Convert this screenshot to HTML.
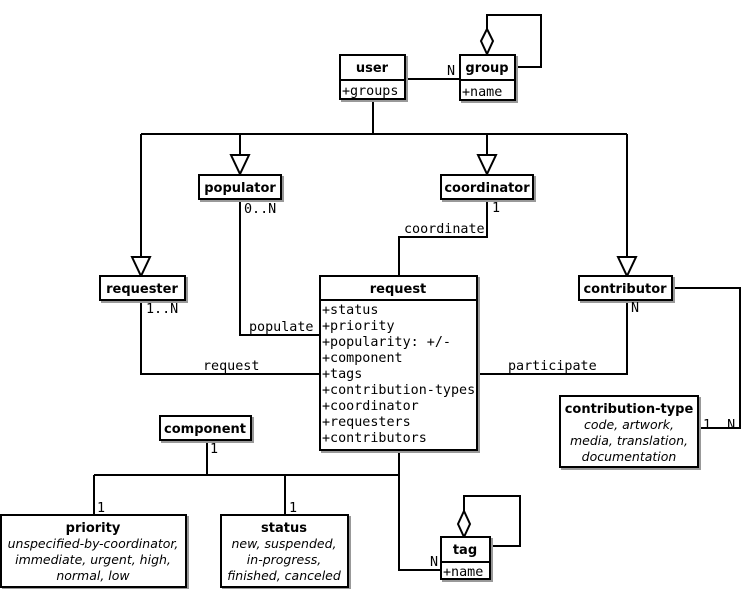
<!DOCTYPE html>
<html><head><style>body{margin:0;background:#fff}svg{display:block}</style></head><body>
<svg width="743" height="589" xmlns="http://www.w3.org/2000/svg">
<defs>
<filter id="s" x="-5%" y="-5%" width="115%" height="115%"><feDropShadow dx="2" dy="2" stdDeviation="0" flood-color="#999"/></filter>
</defs>
<g fill="none" stroke="#000" stroke-width="2">
<path d="M405 79H460"/>
<path d="M487 54V15H541V67H515"/>
<path d="M373 99V134M141 134H627M141 134V257M240 134V155M487 134V155M627 134V257"/>
<path d="M240 199V335H320"/>
<path d="M141 300V374H320"/>
<path d="M487 199V237H399V276"/>
<path d="M627 300V374H477"/>
<path d="M672 288H740V428H698"/>
<path d="M207 440V475M94 475H399M94 475V515M285 475V515"/>
<path d="M399 450V570H441"/>
<path d="M464 517V496H520V546H490"/>
</g>
<g fill="#fff" stroke="#000" stroke-width="2">
<path d="M487 29L493 41L487 54L481 41Z"/>
<path d="M464 511L470 524L464 537L458 524Z"/>
<path d="M132 257H150L141 276Z"/>
<path d="M231 155H249L240 174Z"/>
<path d="M478 155H496L487 174Z"/>
<path d="M618 257H636L627 276Z"/>
<g filter="url(#s)">
<rect x="340" y="55" width="65" height="44"/>
<rect x="460" y="55" width="55" height="45"/>
<rect x="199" y="175" width="82" height="24"/>
<rect x="441" y="175" width="92" height="24"/>
<rect x="100" y="276" width="85" height="24"/>
<rect x="579" y="276" width="93" height="24"/>
<rect x="320" y="276" width="157" height="174"/>
<rect x="560" y="396" width="138" height="71"/>
<rect x="160" y="416" width="91" height="24"/>
<rect x="1" y="515" width="185" height="72"/>
<rect x="221" y="515" width="127" height="72"/>
<rect x="441" y="537" width="49" height="42"/>
</g>
</g>
<g stroke="#000" stroke-width="2">
<path d="M340 80H405M460 80H515M320 300H477M441 562H490"/>
</g>
<g font-family="DejaVu Sans, Liberation Sans, sans-serif" font-weight="bold" font-size="13" text-anchor="middle">
<text x="372" y="72">user</text>
<text x="487" y="72">group</text>
<text x="240" y="192">populator</text>
<text x="487" y="192">coordinator</text>
<text x="142" y="293">requester</text>
<text x="625" y="293">contributor</text>
<text x="398" y="293">request</text>
<text x="629" y="413">contribution-type</text>
<text x="205" y="433">component</text>
<text x="93" y="532">priority</text>
<text x="284" y="532">status</text>
<text x="465" y="554">tag</text>
</g>
<g font-family="DejaVu Sans, Liberation Sans, sans-serif" font-style="italic" font-size="12.5" text-anchor="middle">
<text x="629" y="429">code, artwork,</text>
<text x="629" y="445">media, translation,</text>
<text x="629" y="461">documentation</text>
<text x="93" y="548">unspecified-by-coordinator,</text>
<text x="93" y="564">immediate, urgent, high,</text>
<text x="93" y="580">normal, low</text>
<text x="284" y="548">new, suspended,</text>
<text x="284" y="564">in-progress,</text>
<text x="284" y="580">finished, canceled</text>
</g>
<g font-family="DejaVu Sans Mono, Liberation Mono, monospace" font-size="13.4">
<text x="342" y="95">+groups</text>
<text x="462" y="96">+name</text>
<text x="443" y="576">+name</text>
<text x="322" y="314">+status</text>
<text x="322" y="330">+priority</text>
<text x="322" y="346">+popularity: +/-</text>
<text x="322" y="362">+component</text>
<text x="322" y="378">+tags</text>
<text x="322" y="394">+contribution-types</text>
<text x="322" y="410">+coordinator</text>
<text x="322" y="426">+requesters</text>
<text x="322" y="442">+contributors</text>
<text x="447" y="75">N</text>
<text x="244" y="213">0..N</text>
<text x="492" y="212">1</text>
<text x="404" y="233">coordinate</text>
<text x="146" y="313">1..N</text>
<text x="631" y="312">N</text>
<text x="249" y="331">populate</text>
<text x="203" y="370">request</text>
<text x="508" y="370">participate</text>
<text x="703" y="429">1..N</text>
<text x="210" y="453">1</text>
<text x="97" y="512">1</text>
<text x="289" y="512">1</text>
<text x="430" y="566">N</text>
</g>
</svg>
</body></html>
